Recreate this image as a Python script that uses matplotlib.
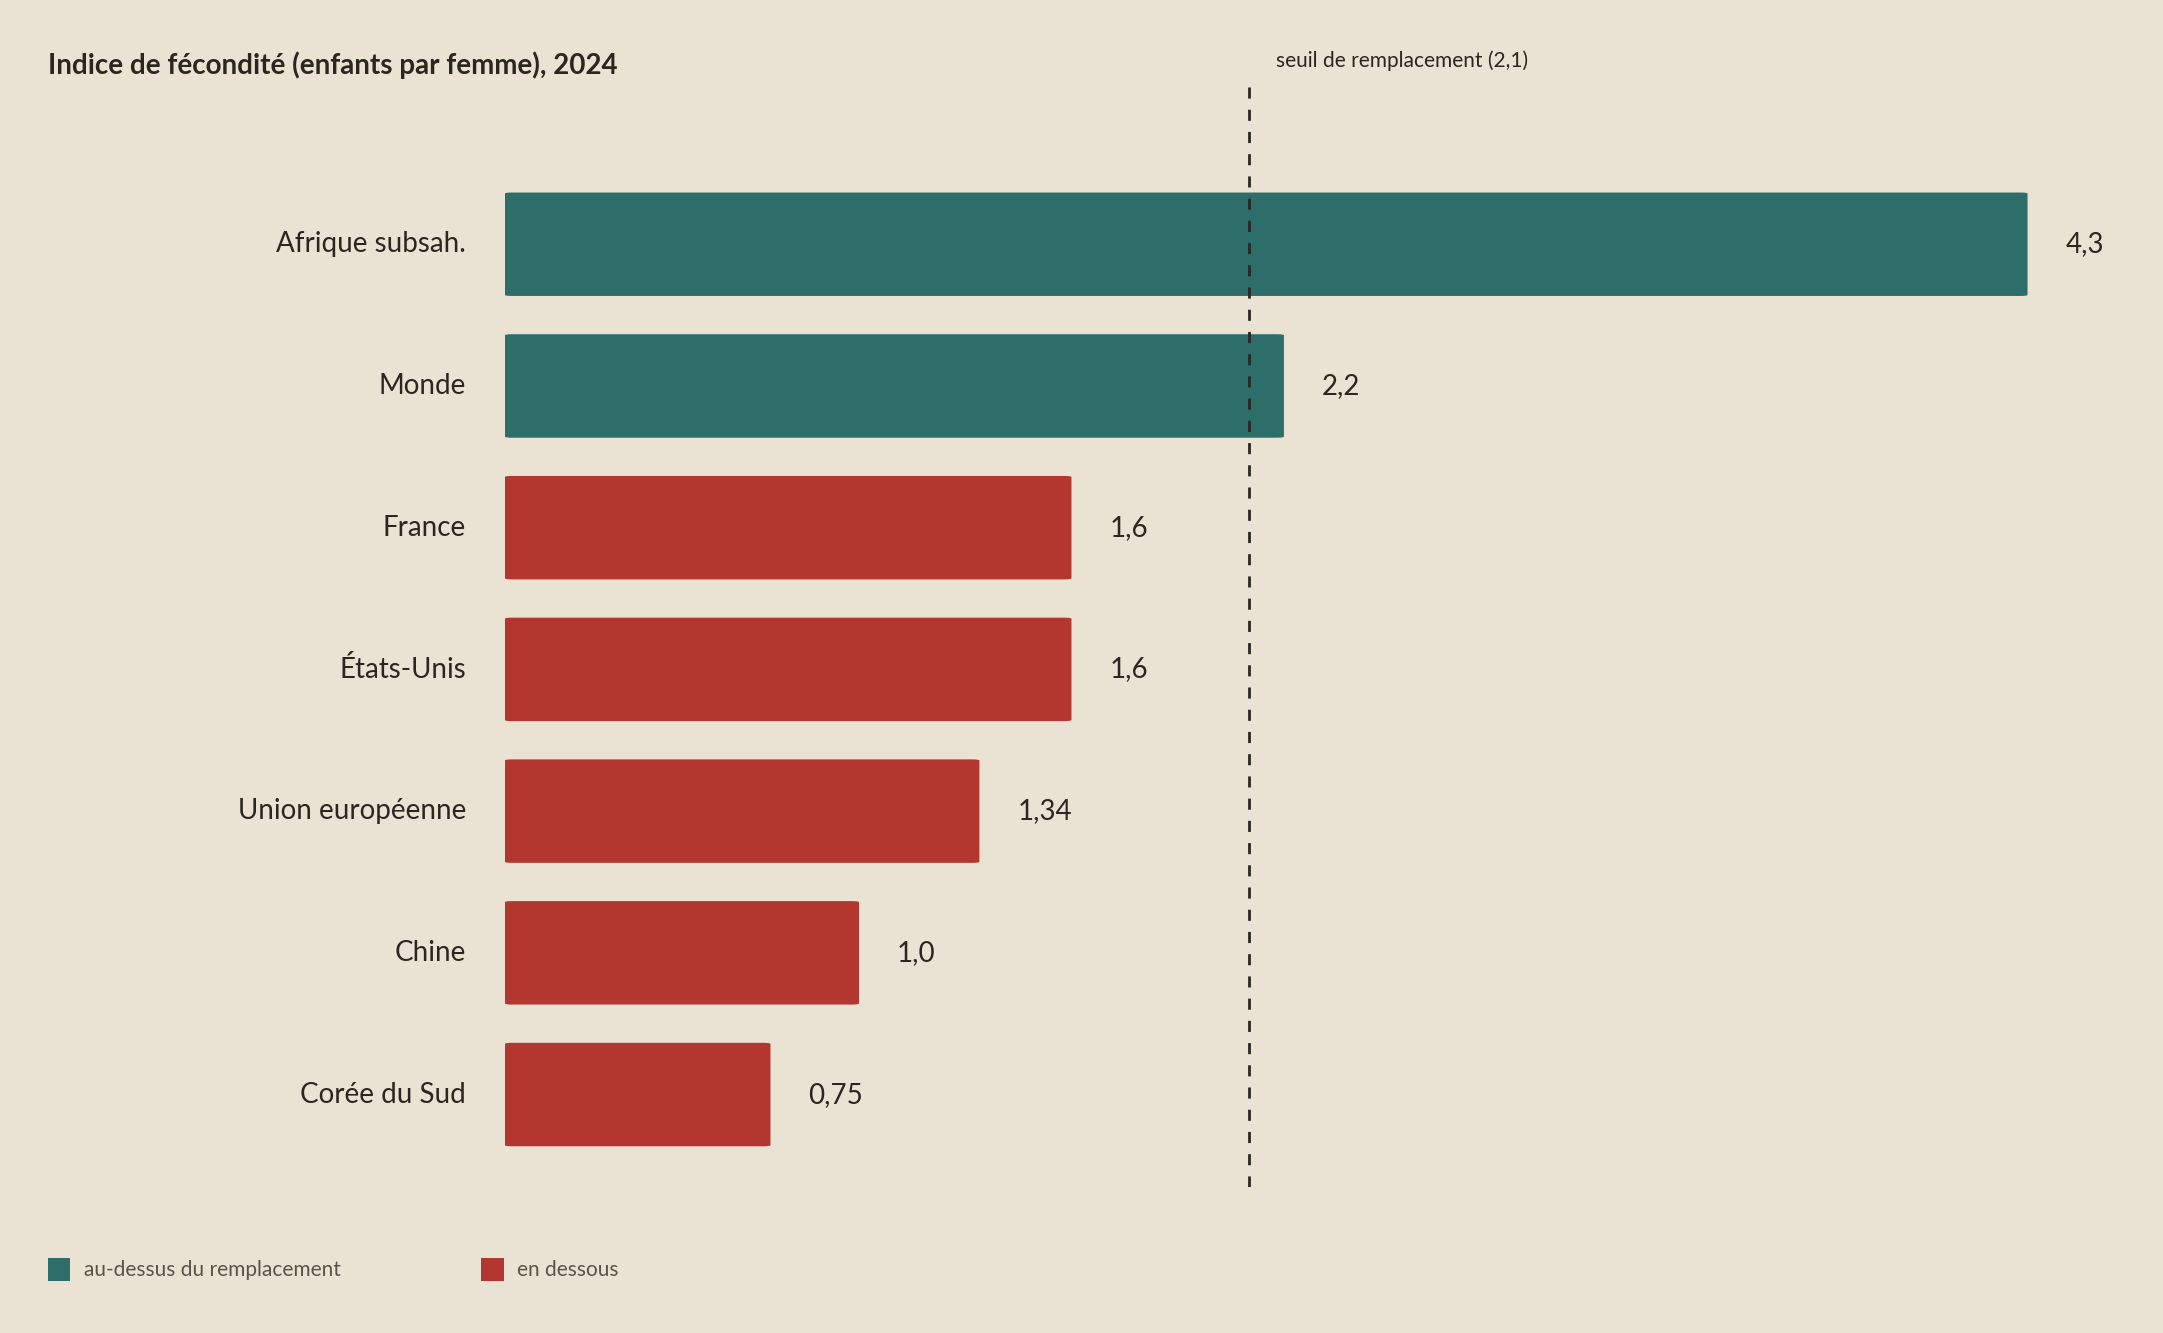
import matplotlib
matplotlib.use("Agg")
import matplotlib.pyplot as plt
from matplotlib.patches import Rectangle, FancyBboxPatch

categories = ["Afrique subsah.", "Monde", "France", "États-Unis", "Union européenne", "Chine", "Corée du Sud"]
values = [4.3, 2.2, 1.6, 1.6, 1.34, 1.0, 0.75]
value_labels = ["4,3", "2,2", "1,6", "1,6", "1,34", "1,0", "0,75"]
threshold = 2.1

BG = "#EAE3D3"; TEAL = "#2E6E6A"; RED = "#B3372F"; INK = "#2B2620"
plt.rcParams['font.family'] = ['Lato', 'DejaVu Sans']

W, H = 1568, 966
fig = plt.figure(figsize=(21.63, 13.33), dpi=100, facecolor=BG)
ax = fig.add_axes([366/W, 1-860/H, 1-366/W, (860-55)/H])
ax.set_facecolor(BG)
ax.set_xlim(0, (W-366)/256.7)
ax.set_ylim((860-177)/102.7, (55-177)/102.7)
for s in ax.spines.values():
    s.set_visible(False)
ax.set_xticks([])
ax.set_yticks([])

for i, (c, v, lab) in enumerate(zip(categories, values, value_labels)):
    col = TEAL if v > threshold else RED
    ax.add_patch(FancyBboxPatch((0, i-0.365), v, 0.73, boxstyle="round,pad=0,rounding_size=0.02",
                                mutation_aspect=1/2.5, facecolor=col, edgecolor="none"))
    ax.annotate(c, (0, i), xytext=(-39, 0), textcoords="offset pixels", ha="right", va="center",
                fontsize=20, color=INK)
    ax.annotate(lab, (v, i), xytext=(38, 0), textcoords="offset pixels", ha="left", va="center",
                fontsize=20, color=INK)

ax.axvline(threshold, color=INK, linestyle=(0, (4, 4)), linewidth=2)
ax.annotate("seuil de remplacement (2,1)", (threshold, (44-177)/102.7), xytext=(27, 0),
            textcoords="offset pixels", ha="left", va="center", fontsize=15, color=INK, annotation_clip=False)

fig.text(35/W, 1-47/H, "Indice de fécondité (enfants par femme), 2024", fontsize=20, fontweight="bold",
         color=INK, ha="left", va="center")

for x, col, txt in [(35, TEAL, "au-dessus du remplacement"), (349, RED, "en dessous")]:
    fig.patches.append(Rectangle((x/W, 1-928/H), 16/W, 16/H, transform=fig.transFigure,
                                 facecolor=col, edgecolor="none"))
    fig.text((x+26)/W, 1-920/H, txt, fontsize=15, color="#5A534A", ha="left", va="center")

fig.savefig("out.png", dpi=100, facecolor=BG)
